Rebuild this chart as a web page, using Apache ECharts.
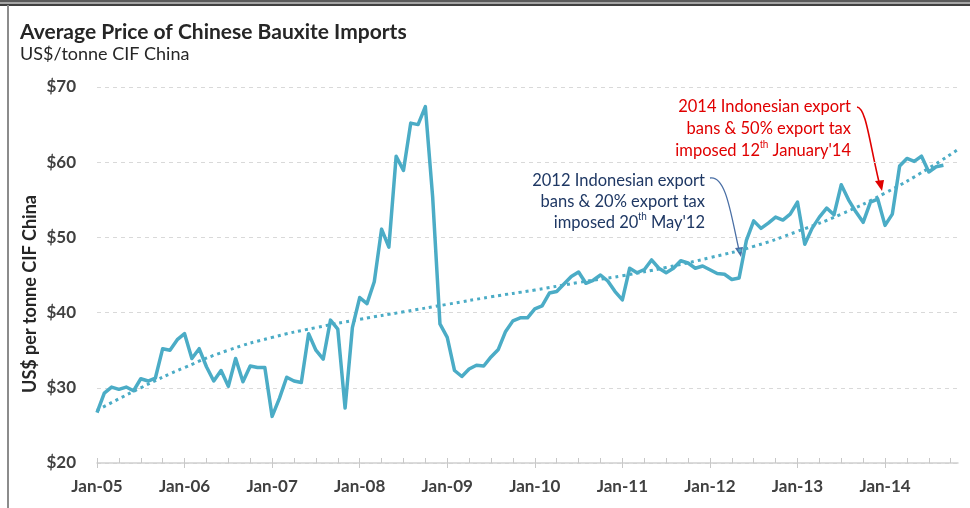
<!DOCTYPE html>
<html>
<head>
    <meta charset="UTF-8">
    <title>Average Price of Chinese Bauxite Imports</title>
    <script src="https://cdn.jsdelivr.net/npm/echarts@6/dist/echarts.min.js"></script>
    <style>
        html, body { margin: 0; padding: 0; background: #fff; }
        #main { width: 970px; height: 508px; }
    </style>
</head>
<body>
<div id="main"></div>
<script>
    // month index 0 = Jan-05
    var yearLabels = ['Jan-05', 'Jan-06', 'Jan-07', 'Jan-08', 'Jan-09', 'Jan-10', 'Jan-11', 'Jan-12', 'Jan-13', 'Jan-14'];
    var yTicks = [20, 30, 40, 50, 60, 70];

    // monthly average price, Jan-05 .. Sep-14 (US$/t)
    var price = [
        26.7, 29.3, 30.1, 29.8, 30.1, 29.6, 31.2, 30.9, 31.3, 35.2, 35.0, 36.4,
        37.2, 33.9, 35.2, 32.8, 30.9, 32.3, 30.2, 33.9, 30.8, 32.9, 32.7, 32.7,
        26.2, 28.6, 31.4, 30.9, 30.7, 37.2, 35.0, 33.8, 39.0, 37.8, 27.3, 38.0,
        42.0, 41.2, 44.1, 51.1, 48.7, 60.8, 58.9, 65.2, 65.0, 67.4, 55.4, 38.5,
        36.7, 32.3, 31.5, 32.5, 33.0, 32.9, 34.1, 35.1, 37.5, 38.9, 39.3, 39.3,
        40.5, 40.9, 42.6, 42.8, 43.8, 44.8, 45.4, 43.9, 44.3, 45.0, 44.2, 42.8,
        41.7, 45.9, 45.3, 45.7, 47.0, 45.9, 45.3, 45.9, 46.9, 46.6, 45.9, 46.2,
        45.7, 45.2, 45.1, 44.4, 44.6, 49.6, 52.2, 51.2, 51.9, 52.7, 52.3, 53.1,
        54.7, 49.1, 51.2, 52.7, 53.9, 53.0, 57.0, 55.0, 53.4, 52.0, 54.7, 55.1,
        51.6, 53.1, 59.5, 60.5, 60.1, 60.8, 58.7, 59.4, 59.6
    ];

    // trend line read at a few months
    var trendMonths = [0, 6, 12, 18, 24, 30, 36, 42, 48, 54, 60, 66, 72, 78, 84, 90, 96, 102, 108, 114, 118];
    var trendValues = [27.0, 30.0, 32.7, 35.0, 36.7, 38.0, 39.1, 40.1, 41.1, 42.1, 43.0, 44.0, 44.9, 46.0, 47.3, 48.8, 50.8, 53.1, 55.9, 59.2, 61.7];

    var priceData = [], trendData = [];
    for (var i = 0; i < price.length; i++) {
        priceData.push([i, price[i]]);
    }
    for (var j = 0; j < trendMonths.length; j++) {
        trendData.push([trendMonths[j], trendValues[j]]);
    }
    var majorTicks = [], quarterTicks = [];
    for (var k = 0; k < yearLabels.length; k++) majorTicks.push(k * 12);
    for (var q = 0; q <= 117; q += 3) quarterTicks.push(q);

    var lineColor = '#4bacc6';
    var font = 'Lato, "Open Sans", sans-serif';

    var myChart = echarts.init(document.getElementById('main'));
    var option = {
        animation: false,
        textStyle: { fontFamily: font },
        grid: { left: 97, right: 12, top: 87, bottom: 45 },
        xAxis: [
            {
                type: 'value', min: 0, max: 118,
                axisLine: { show: true, lineStyle: { color: '#d0d0d0', width: 1.5 } },
                axisTick: { show: true, customValues: majorTicks, length: 5, lineStyle: { color: '#c8c8c8' } },
                axisLabel: {
                    customValues: majorTicks,
                    formatter: function (v) { return yearLabels[Math.round(v / 12)] || ''; },
                    fontSize: 17, fontWeight: 'bold', color: '#404040', margin: 15, fontFamily: font
                },
                splitLine: { show: false }
            },
            {
                type: 'value', min: 0, max: 118, position: 'bottom',
                axisLine: { show: false },
                axisTick: { show: true, inside: true, customValues: quarterTicks, length: 5, lineStyle: { color: '#c8c8c8' } },
                axisLabel: { show: false },
                splitLine: { show: false }
            }
        ],
        yAxis: {
            type: 'value', min: yTicks[0], max: yTicks[yTicks.length - 1], interval: 10,
            axisLine: { show: false },
            axisTick: { show: false },
            axisLabel: {
                formatter: '${value}', fontSize: 17, fontWeight: 'bold', color: '#404040', margin: 21, fontFamily: font
            },
            splitLine: { show: true, lineStyle: { color: '#d9d9d9', type: [4, 4], width: 1 } }
        },
        graphic: [
            // frame
            { type: 'rect', shape: { x: 0, y: 0, width: 970, height: 2 }, style: { fill: '#5a5a5a' } },
            { type: 'rect', shape: { x: 0, y: 2, width: 970, height: 2 }, style: { fill: '#a6a6a6' } },
            { type: 'rect', shape: { x: 0, y: 4, width: 970, height: 2 }, style: { fill: '#404040' } },
            { type: 'rect', shape: { x: 7, y: 5, width: 2, height: 503 }, style: { fill: '#8c8c8c' } },
            // titles
            { type: 'text', x: 20, y: 22, style: { text: 'Average Price of Chinese Bauxite Imports', font: 'bold 21px ' + font, fill: '#262626' } },
            { type: 'text', x: 20, y: 45, style: { text: 'US$/tonne CIF China', font: '18px ' + font, fill: '#262626' } },
            { type: 'text', x: 30, y: 294, rotation: Math.PI / 2,
              style: { text: 'US$ per tonne CIF China', font: 'bold 18px ' + font, fill: '#262626', align: 'center', verticalAlign: 'middle' } },
            // 2012 annotation
            { type: 'text', x: 705, y: 170,
              style: {
                  text: '2012 Indonesian export\nbans & 20% export tax\nimposed 20{sup|th} May\'12',
                  font: '16.5px ' + font, fill: '#1f3864', align: 'right', lineHeight: 21,
                  rich: { sup: { fontSize: 10, fill: '#1f3864', verticalAlign: 'top', lineHeight: 21, padding: [0, 0, 8, 0] } }
              } },
            { type: 'bezierCurve',
              shape: { x1: 710, y1: 178, cpx1: 726, cpy1: 175, cpx2: 731, cpy2: 215, x2: 739, y2: 250 },
              style: { stroke: '#4a6fa5', lineWidth: 1.3, fill: null } },
            { type: 'polygon', shape: { points: [[741, 257], [735, 248], [743, 247]] }, style: { fill: '#4a6fa5' } },
            // 2014 annotation
            { type: 'text', x: 851, y: 96,
              style: {
                  text: '2014 Indonesian export\nbans & 50% export tax\nimposed 12{sup|th} January\'14',
                  font: '16.5px ' + font, fill: '#e00000', align: 'right', lineHeight: 22,
                  rich: { sup: { fontSize: 10, fill: '#e00000', verticalAlign: 'top', lineHeight: 22, padding: [0, 0, 8, 0] } }
              } },
            { type: 'bezierCurve',
              shape: { x1: 857, y1: 107, cpx1: 866, cpy1: 108, cpx2: 869, cpy2: 140, x2: 879, y2: 182 },
              style: { stroke: '#e00000', lineWidth: 1.6, fill: null } },
            { type: 'polygon', shape: { points: [[882, 191], [875, 181], [884, 180]] }, style: { fill: '#e00000' } }
        ],
        series: [
            {
                name: 'Trend', type: 'line', data: trendData, smooth: true, showSymbol: false,
                lineStyle: { color: lineColor, width: 3, type: [3, 4] }, z: 2
            },
            {
                name: 'Price', type: 'line', data: priceData, showSymbol: false,
                lineStyle: { color: lineColor, width: 3.5, join: 'round' }, z: 3
            }
        ]
    };
    myChart.setOption(option);
</script>
</body>
</html>
